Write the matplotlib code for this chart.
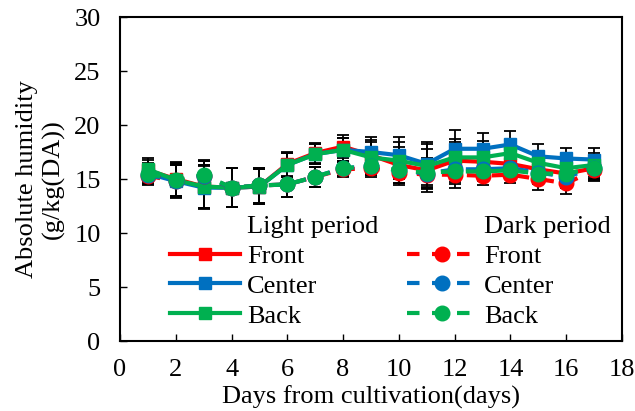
import matplotlib
matplotlib.use('Agg')
import matplotlib.pyplot as plt
from matplotlib.lines import Line2D

plt.rcParams['font.family'] = ['Liberation Serif', 'DejaVu Serif']
plt.rcParams['font.size'] = 19

days = list(range(1, 18))

light_front = [15.8, 15.0, 14.3, 14.2, 14.3, 16.4, 17.4, 18.0, 17.2, 16.3, 15.8, 16.7, 16.6, 16.4, 15.9, 15.5, 16.0]
light_center = [15.5, 14.8, 14.2, 14.2, 14.3, 16.3, 17.3, 17.7, 17.5, 17.2, 16.4, 17.8, 17.8, 18.2, 17.1, 16.9, 16.8]
light_back = [15.9, 14.9, 14.3, 14.2, 14.3, 16.3, 17.3, 17.7, 17.0, 16.7, 16.2, 17.0, 17.0, 17.4, 16.5, 16.0, 16.3]
dark_front = [15.3, 14.8, 15.3, 14.2, 14.4, 14.5, 15.2, 15.9, 16.0, 15.6, 15.4, 15.4, 15.3, 15.4, 15.0, 14.6, 15.8]
dark_center = [15.4, 14.8, 15.3, 14.2, 14.4, 14.5, 15.2, 16.0, 16.2, 15.8, 15.5, 15.9, 15.9, 16.0, 15.6, 15.2, 16.0]
dark_back = [15.5, 14.9, 15.4, 14.2, 14.4, 14.5, 15.2, 16.0, 16.2, 15.8, 15.6, 15.7, 15.7, 15.8, 15.5, 15.5, 16.0]

light_err = [1.0, 1.6, 2.0, 1.8, 1.6, 1.1, 0.9, 1.1, 1.4, 1.7, 2.0, 1.7, 1.5, 1.2, 1.1, 1.0, 1.1]
dark_err = [0.9, 1.5, 1.4, 1.8, 1.6, 1.2, 0.9, 0.7, 0.8, 1.2, 1.3, 1.2, 0.9, 0.8, 1.0, 1.0, 1.0]

names = ['Front', 'Center', 'Back']
colors = ['#FF0000', '#0070C0', '#00B050']

fig = plt.figure(figsize=(6.35, 4.11), dpi=100)
ax = fig.add_axes([0.189, 0.1703, 0.7905, 0.7883])

light_handles = [Line2D([], [], linestyle='none')]
dark_handles = [Line2D([], [], linestyle='none')]

for vals, c in zip([light_front, light_center, light_back], colors):
    ax.errorbar(days, vals, yerr=light_err, color=c, lw=3, marker='s', ms=9,
                ecolor='black', elinewidth=1.3, capsize=4, capthick=1.3)
    light_handles.append(Line2D([], [], color=c, lw=3, marker='s', ms=9))

for vals, c in zip([dark_front, dark_center, dark_back], colors):
    ax.errorbar(days, vals, yerr=dark_err, color=c, lw=3, ls=(0, (3, 3)), marker='o', ms=10.5,
                ecolor='black', elinewidth=1.3, capsize=4, capthick=1.3)
    dark_handles.append(Line2D([], [], color=c, lw=3, ls=(0, (3, 3)), marker='o', ms=10.5))

ax.set_xlim(0, 18)
ax.set_ylim(0, 30)
ax.set_xticks(range(0, 19, 2))
ax.set_yticks(range(0, 31, 5))
ax.tick_params(direction='in', length=5, width=1, top=False, right=False)
ax.tick_params(axis='y', pad=14)
ax.tick_params(axis='x', pad=13)
for s in ax.spines.values():
    s.set_linewidth(1.5)

ax.set_xlabel('Days from cultivation(days)', labelpad=3)
ax.set_ylabel('Absolute humidity\n(g/kg(DA))', labelpad=7, linespacing=1.2)

leg1 = ax.legend(light_handles, ['Light period'] + names, loc='upper left',
                 bbox_to_anchor=(0.10, 0.39), frameon=False, borderpad=0, borderaxespad=0,
                 handlelength=2.65, handletextpad=0.27, labelspacing=0.24)
ax.add_artist(leg1)
ax.legend(dark_handles, ['Dark period'] + names, loc='upper left',
          bbox_to_anchor=(0.572, 0.39), frameon=False, borderpad=0, borderaxespad=0,
          handlelength=2.65, handletextpad=0.27, labelspacing=0.24)

fig.savefig('out.png', dpi=100)
